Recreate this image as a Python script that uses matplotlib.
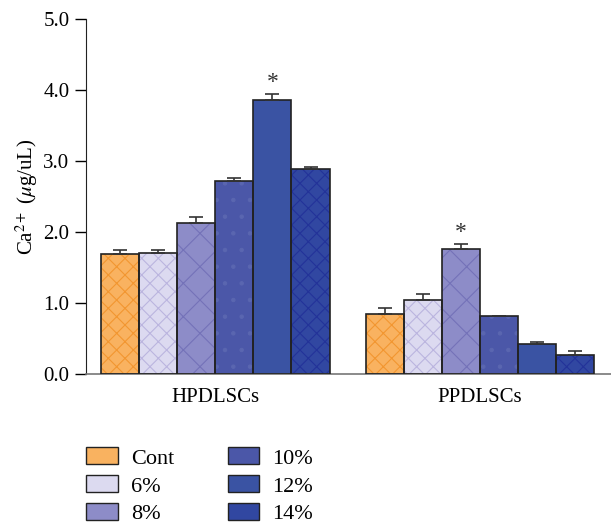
import numpy as np
import matplotlib.pyplot as plt
from matplotlib.patches import Patch

plt.rcParams['font.family'] = ['Liberation Serif', 'DejaVu Serif']
plt.rcParams['mathtext.fontset'] = 'stix'
plt.rcParams['hatch.linewidth'] = 0.8

# Data
groups = ['HPDLSCs', 'PPDLSCs']
series = ['Cont', '6%', '8%', '10%', '12%', '14%']
hp_vals = [1.69, 1.70, 2.13, 2.72, 3.86, 2.89]
hp_err = [0.05, 0.05, 0.08, 0.04, 0.08, 0.03]
pp_vals = [0.85, 1.04, 1.76, 0.82, 0.42, 0.27]
pp_err = [0.08, 0.09, 0.07, 0.00, 0.03, 0.05]
stars = [(0, 4), (1, 2)]  # (group, series) marked with *

faces = ['#F9B260', '#DCDAF0', '#8D8CC8', '#4B57A8', '#3A53A3', '#3147A1']
hatch_cols = ['#F29630', '#BBB5DF', '#7472B8', '#5A66B0', '#3A53A3', '#233399']
hatches = ['xx', 'xx', 'x', '.', '', 'xx']

fig = plt.figure(figsize=(6.11, 5.24), dpi=100)
ax = fig.add_axes([0.1408, 0.2863, 0.859, 0.6775])

w = 0.144
x = np.arange(len(groups))
vals = np.array([hp_vals, pp_vals])
errs = np.array([hp_err, pp_err])

for i in range(len(series)):
    pos = x + (i - 2.5) * w
    # fill + hatch
    ax.bar(pos, vals[:, i], w, color=faces[i], edgecolor=hatch_cols[i],
           hatch=hatches[i], linewidth=0, zorder=2)
    # black outline
    ax.bar(pos, vals[:, i], w, fill=False, edgecolor='#222222',
           linewidth=1.2, zorder=3)
    ax.errorbar(pos, vals[:, i], yerr=[np.zeros(2), errs[:, i]], fmt='none',
                ecolor='#333333', elinewidth=1.2, capsize=5, capthick=1.2,
                zorder=4)

for g, s in stars:
    px = x[g] + (s - 2.5) * w
    ax.text(px, vals[g, s] + errs[g, s] + 0.02, '*', ha='center', va='bottom',
            fontsize=17, color='#333333')

ax.set_ylim(0, 5)
ax.set_xlim(-0.489, 1.496)
ax.set_yticks(np.arange(0, 5.1, 1.0))
ax.set_yticklabels(['%.1f' % v for v in np.arange(0, 5.1, 1.0)], fontsize=15)
ax.set_xticks(x)
ax.set_xticklabels(groups, fontsize=15)
ax.tick_params(axis='x', length=0, pad=10)
ax.tick_params(axis='y', length=8, width=1, direction='out', pad=4)
ax.set_ylabel('Ca$^{2+}$ ($\\mu$g/uL)', fontsize=15, labelpad=2)

for side in ['top', 'right']:
    ax.spines[side].set_visible(False)
ax.spines['left'].set_color('#222222')
ax.spines['bottom'].set_color('#777777')
ax.spines['bottom'].set_linewidth(1.2)

handles = [Patch(facecolor=faces[i], edgecolor='#222222', linewidth=1.0,
                 label=series[i]) for i in range(len(series))]
fig.legend(handles=handles, ncol=2, loc='upper left',
           bbox_to_anchor=(0.127, 0.163), frameon=False, fontsize=16,
           handlelength=1.4, handleheight=0.8, labelspacing=0.3,
           columnspacing=2.4, handletextpad=0.6, borderaxespad=0)

fig.savefig('out.png', dpi=100)
